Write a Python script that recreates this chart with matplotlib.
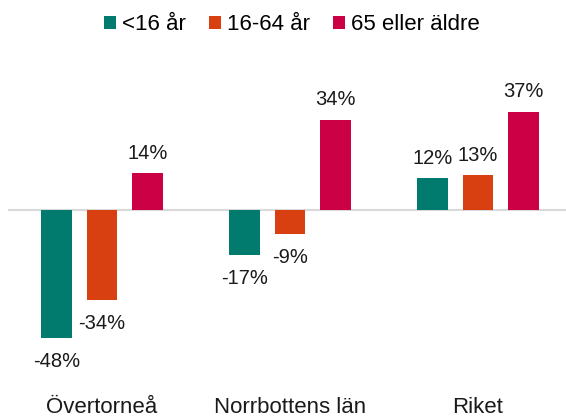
import matplotlib
matplotlib.use("Agg")
import matplotlib.pyplot as plt
import numpy as np

plt.rcParams['font.family'] = ['Liberation Sans', 'DejaVu Sans']

categories = ["Övertorneå", "Norrbottens län", "Riket"]
series_names = ["<16 år", "16-64 år", "65 eller äldre"]
values = {
    "<16 år": [-48, -17, 12],
    "16-64 år": [-34, -9, 13],
    "65 eller äldre": [14, 34, 37],
}
colors = ["#007B6E", "#D84012", "#CC0044"]

fig = plt.figure(figsize=(5.66, 4.19), dpi=100)
ax = fig.add_axes([8/566, 1 - 390/419, 564/566, 330/419])

x = np.arange(len(categories))
width = 0.16
offsets = [-0.242, 0, 0.242]
for name, col, off in zip(series_names, colors, offsets):
    vals = values[name]
    ax.bar(x + off, vals, width, color=col, label=name, zorder=2)
    for xi, v in zip(x + off, vals):
        if v >= 0:
            ax.text(xi, v + 3.8, f"{v}%", ha='center', va='bottom', fontsize=14.5, color='#1a1a1a')
        else:
            ax.text(xi, v - 5.3, f"{v}%", ha='center', va='top', fontsize=14.5, color='#1a1a1a')

ax.axhline(0, color='#D9D9D9', lw=1.5, zorder=1)
ax.set_xlim(-0.5, 2.5)
ax.set_ylim(-67.7, 56.4)
ax.set_yticks([])
ax.set_xticks(x)
ax.set_xticklabels(categories, fontsize=16, color='#1a1a1a')
ax.tick_params(axis='x', length=0, pad=5)
for s in ax.spines.values():
    s.set_visible(False)

leg = fig.legend(loc='upper center', bbox_to_anchor=(0.516, 0.998), ncol=3, frameon=False,
                 fontsize=16, handlelength=0.54, handleheight=0.54, handletextpad=0.27,
                 columnspacing=1.04, borderaxespad=0.2)

fig.savefig("out.png", dpi=100)
